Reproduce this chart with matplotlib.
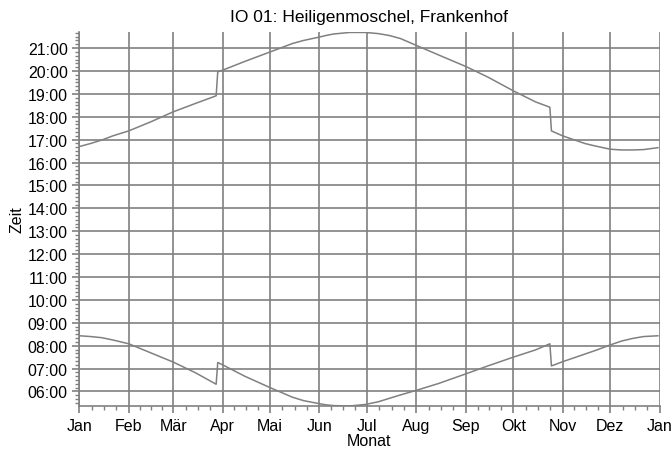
import matplotlib
matplotlib.use("Agg")
import matplotlib.pyplot as plt
import matplotlib.dates as mdates
from matplotlib.ticker import FixedLocator, FuncFormatter, MultipleLocator
import pandas as pd
import numpy as np

plt.rcParams['font.family'] = ['Liberation Sans', 'DejaVu Sans']

title = "IO 01: Heiligenmoschel, Frankenhof"
dates = ["2015-01-01", "2015-01-08", "2015-01-15", "2015-01-22", "2015-02-01",
         "2015-02-15", "2015-03-01", "2015-03-15", "2015-03-28", "2015-03-29",
         "2015-04-01", "2015-04-15", "2015-05-01", "2015-05-15", "2015-05-22",
         "2015-06-01", "2015-06-05", "2015-06-10", "2015-06-20", "2015-06-30",
         "2015-07-08", "2015-07-15", "2015-07-22", "2015-08-01", "2015-08-15",
         "2015-09-01", "2015-09-15", "2015-10-01", "2015-10-15", "2015-10-24",
         "2015-10-25", "2015-11-01", "2015-11-15", "2015-11-22", "2015-12-01",
         "2015-12-08", "2015-12-15", "2015-12-22", "2015-12-31"]
sunrise = ["08:26", "08:24", "08:21", "08:15", "08:05",
           "07:41", "07:17", "06:49", "06:19", "07:16",
           "07:10", "06:40", "06:10", "05:45", "05:36",
           "05:28", "05:25", "05:23", "05:22", "05:26",
           "05:33", "05:42", "05:51", "06:03", "06:21",
           "06:46", "07:07", "07:30", "07:49", "08:05",
           "07:07", "07:18", "07:38", "07:48", "08:02",
           "08:12", "08:19", "08:24", "08:26"]
sunset = ["16:42", "16:50", "16:59", "17:10", "17:23",
          "17:47", "18:13", "18:35", "18:55", "19:58",
          "20:02", "20:25", "20:50", "21:12", "21:20",
          "21:29", "21:33", "21:37", "21:41", "21:41",
          "21:38", "21:33", "21:25", "21:07", "20:42",
          "20:12", "19:44", "19:08", "18:39", "18:25",
          "17:23", "17:10", "16:50", "16:43", "16:35",
          "16:33", "16:33", "16:34", "16:39"]
month_labels = ["Jan", "Feb", "Mär", "Apr", "Mai", "Jun", "Jul",
                "Aug", "Sep", "Okt", "Nov", "Dez", "Jan"]


def to_hours(s):
    h, m = s.split(":")
    return int(h) + int(m) / 60.0


x = pd.to_datetime(dates)
rise = np.array([to_hours(s) for s in sunrise])
sset = np.array([to_hours(s) for s in sunset])

fig = plt.figure(figsize=(6.72, 4.52), dpi=100)
ax = fig.add_axes([0.1183, 0.0996, 0.9814 - 0.1183, 0.927 - 0.0996])

gray = "#808080"
ax.plot(x, sset, color=gray, lw=1.1)
ax.plot(x, rise, color=gray, lw=1.1)

month_starts = pd.date_range("2015-01-01", "2016-01-01", freq="MS")
xnum = mdates.date2num(month_starts)
ax.set_xlim(xnum[0], xnum[-1])
ax.xaxis.set_major_locator(FixedLocator(xnum))
ax.set_xticklabels(month_labels)
minor = []
for a, b in zip(xnum[:-1], xnum[1:]):
    for k in (1, 2, 3):
        minor.append(a + (b - a) * k / 4)
ax.xaxis.set_minor_locator(FixedLocator(minor))

ymin = to_hours("05:22")
ymax = to_hours("21:41")
ax.set_ylim(ymin, ymax + 0.02)
ax.yaxis.set_major_locator(MultipleLocator(1))
ax.yaxis.set_minor_locator(MultipleLocator(1 / 6))
ax.yaxis.set_major_formatter(FuncFormatter(lambda v, p: "%02d:%02d" % (int(round(v * 60)) // 60, int(round(v * 60)) % 60)))

ax.grid(True, which="major", color=gray, lw=1.2)
for side in ("top", "right"):
    ax.spines[side].set_visible(False)
for side in ("left", "bottom"):
    ax.spines[side].set_color(gray)
    ax.spines[side].set_linewidth(1.2)
ax.tick_params(which="major", length=5, color=gray, labelsize=11.5, labelcolor="black", width=1.2)
ax.tick_params(which="minor", length=3, color=gray, width=1)

ax.set_title(title, fontsize=12.5, pad=8)
ax.set_xlabel("Monat", fontsize=11.5, labelpad=0)
ax.set_ylabel("Zeit", fontsize=11.5, labelpad=2)

fig.savefig("out.png", dpi=100)
